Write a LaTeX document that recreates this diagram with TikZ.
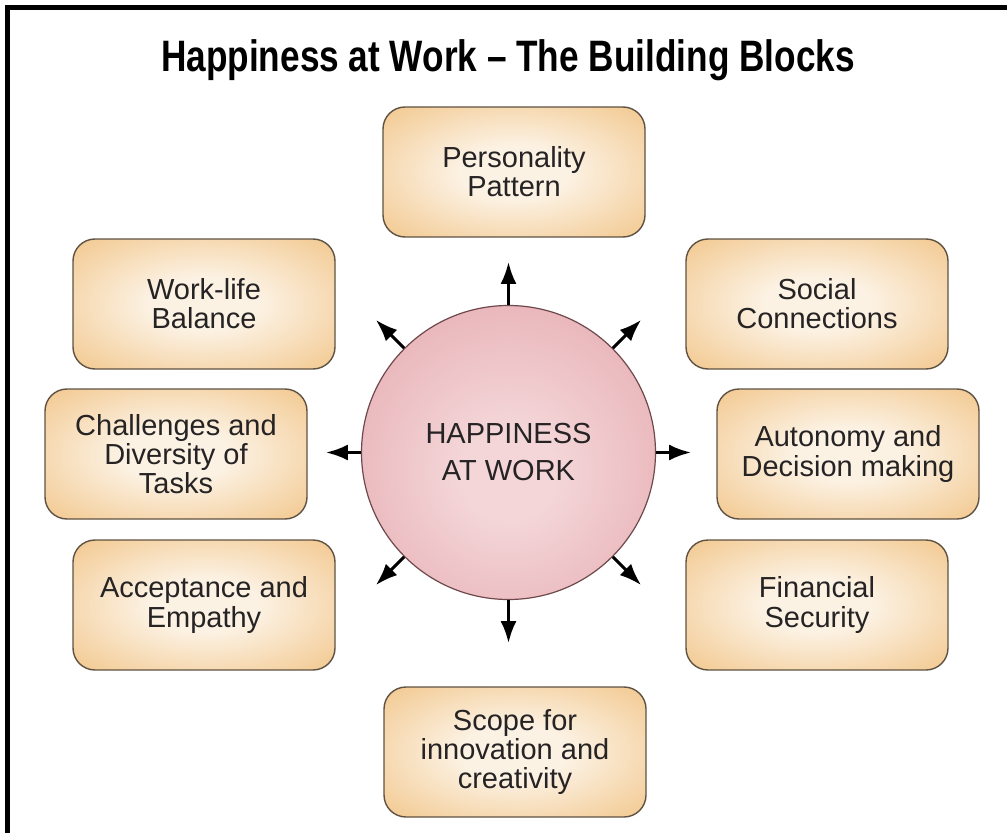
\documentclass[tikz,border=0pt]{standalone}
\usepackage{fontspec}
\setmainfont{Liberation Sans}
\newfontfamily\titlefont[FakeStretch=0.80]{Liberation Sans}
\usepackage{tikz}
\usetikzlibrary{arrows.meta}
\usepackage{xcolor}

% cores
\definecolor{texto}{HTML}{262324}
\definecolor{blocoin}{HTML}{FCF2E4}
\definecolor{blocoout}{HTML}{EFBA72}
\definecolor{blocoborda}{HTML}{5F5242}
\definecolor{circin}{HTML}{F4D6D8}
\definecolor{circout}{HTML}{DB8E96}
\definecolor{circborda}{HTML}{6E484B}

% degradês radiais
\pgfdeclareradialshading{blocofill}{\pgfpoint{0bp}{0bp}}{color(0bp)=(blocoin); color(10bp)=(blocoin); color(44bp)=(blocoout); color(75bp)=(blocoout)}
\pgfdeclareradialshading{circfill}{\pgfpoint{0bp}{-4bp}}{color(0bp)=(circin); color(8bp)=(circin); color(54bp)=(circout); color(75bp)=(circout)}

\tikzset{
  bloco/.style={draw=blocoborda, line width=0.7pt, rounded corners=11pt,
    shading=blocofill, minimum width=131pt, minimum height=65pt,
    align=center, text=texto, font=\fontsize{14.5}{14.6}\selectfont},
  centro/.style={circle, draw=circborda, line width=0.6pt, shading=circfill,
    minimum size=147pt, inner sep=0pt, align=center, text=texto,
    font=\fontsize{14.5}{18.5}\selectfont},
  seta/.style={line width=1.5pt, -{Latex[length=11pt,width=8pt]}}
}

\begin{document}
\begin{tikzpicture}[x=0.5pt, y=0.5pt]
    \path[use as bounding box, clip] (0,0) rectangle (1007,832);

    % moldura
    \draw[line width=2.6pt] (7.5,-100) rectangle (1200,824.5);

    % título
    \node (titulo) at (508,772) {\titlefont\bfseries\fontsize{22}{24}\selectfont
      Happiness at Work – The Building Blocks};

    % círculo central
    \node[centro] (hap) at (508.5,379.5) {HAPPINESS\\AT WORK};

    % blocos
    \node[bloco] (pers)  at (514,660) {Personality\\Pattern};
    \node[bloco] (wlb)   at (204,528) {Work-life\\Balance};
    \node[bloco] (soc)   at (817,528) {Social\\Connections};
    \node[bloco] (chal)  at (176,378) {Challenges and\\Diversity of\\Tasks};
    \node[bloco] (auto)  at (848,378) {Autonomy and\\Decision making};
    \node[bloco] (acc)   at (204,227) {Acceptance and\\Empathy};
    \node[bloco] (fin)   at (817,227) {Financial\\Security};
    \node[bloco] (scope) at (515,80)  {Scope for\\innovation and\\creativity};

    % setas radiais
    \foreach \ang/\len in {90/43, 45/40, 0/35, -45/40, -90/43, -135/40, 180/35, 135/40} {
      \path (hap.\ang) ++(\ang:\len) coordinate (ponta\ang);
      \draw[seta] (hap.\ang) -- (ponta\ang);
    }
\end{tikzpicture}
\end{document}
